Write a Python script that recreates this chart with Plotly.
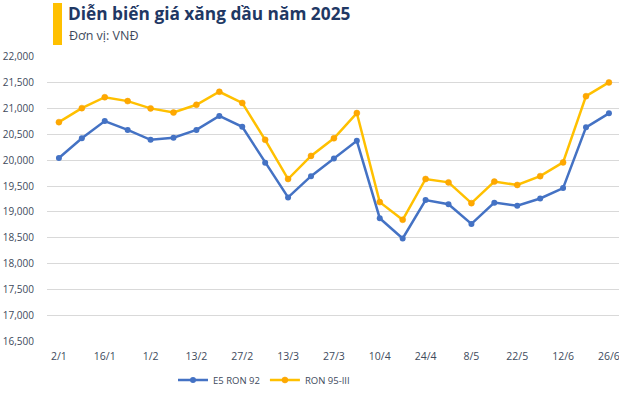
import plotly.graph_objects as go

dates = ["2/1", "9/1", "16/1", "23/1", "1/2", "6/2", "13/2", "20/2", "27/2", "6/3",
         "13/3", "20/3", "27/3", "3/4", "10/4", "17/4", "24/4", "2/5", "8/5", "15/5",
         "22/5", "29/5", "12/6", "19/6", "26/6"]
tick_labels = ["2/1", "16/1", "1/2", "13/2", "27/2", "13/3", "27/3", "10/4", "24/4",
               "8/5", "22/5", "12/6", "26/6"]

e5_ron92 = [20040, 20420, 20750, 20580, 20390, 20430, 20580, 20850, 20640, 19950,
            19280, 19690, 20030, 20370, 18880, 18490, 19230, 19150, 18770, 19180,
            19120, 19260, 19460, 20630, 20900]
ron95_iii = [20730, 21000, 21210, 21135, 20995, 20915, 21065, 21315, 21100, 20390,
             19635, 20080, 20420, 20905, 19190, 18850, 19635, 19570, 19170, 19585,
             19520, 19690, 19955, 21230, 21495]

y_ticks = list(range(16500, 22001, 500))

fig = go.Figure()
fig.add_trace(go.Scatter(
    x=dates, y=e5_ron92, name="E5 RON 92", mode="lines+markers",
    line=dict(color="#4472C4", width=2.5),
    marker=dict(color="#4472C4", size=6),
))
fig.add_trace(go.Scatter(
    x=dates, y=ron95_iii, name="RON 95-III", mode="lines+markers",
    line=dict(color="#FFC000", width=2.5),
    marker=dict(color="#FFA800", size=6, line=dict(color="#F5A000", width=0.5)),
))

font_family = "Open Sans, Noto Sans, sans-serif"
W, H = 619, 394
L, T = 47, 56
B = H - 342
PW, PH = W - L, H - T - B


def px_x(x):
    return (x - L) / PW


def px_y(y):
    return (H - B - y) / PH


fig.update_layout(
    width=W, height=H,
    margin=dict(l=L, r=0, t=T, b=B, autoexpand=False),
    plot_bgcolor="white", paper_bgcolor="white",
    font=dict(family=font_family, size=10, color="#404a5c"),
    showlegend=True,
    legend=dict(orientation="h", x=px_x(264), xanchor="center", y=px_y(380), yanchor="middle",
                font=dict(size=9.5, color="#404a5c"), itemwidth=30,
                bgcolor="rgba(0,0,0,0)"),
    xaxis=dict(
        type="category", range=[-0.52, 24.44], automargin=False,
        tickmode="array", tickvals=tick_labels, ticktext=tick_labels,
        showgrid=False, showline=False, zeroline=False, ticks="",
        ticklabelstandoff=6,
        tickfont=dict(size=10.5, color="#404a5c"),
    ),
    yaxis=dict(
        range=[16496, 22004], tickvals=y_ticks, automargin=False,
        tickformat=",d", showgrid=True, gridcolor="#D9D9D9", gridwidth=1,
        showline=False, zeroline=False, ticks="",
        ticklabelstandoff=12,
        tickfont=dict(size=10, color="#404a5c"),
    ),
    shapes=[dict(type="rect", xref="paper", yref="paper",
                 x0=px_x(53), x1=px_x(62), y0=px_y(45), y1=px_y(3),
                 fillcolor="#FFC000", line=dict(width=0), layer="above")],
    annotations=[
        dict(text="<b>Diễn biến giá xăng dầu năm 2025</b>", xref="paper", yref="paper",
             x=px_x(66), y=px_y(14), xanchor="left", yanchor="middle",
             showarrow=False, font=dict(size=17.3, color="#1F3864", family=font_family)),
        dict(text="Đơn vị: VNĐ", xref="paper", yref="paper",
             x=px_x(67), y=px_y(35), xanchor="left", yanchor="middle",
             showarrow=False, font=dict(size=12.5, color="#404a5c", family=font_family)),
    ],
)

fig.write_html("out.html", config={"displayModeBar": False},
               post_script="document.body.style.margin='0';document.body.style.overflow='hidden';")
